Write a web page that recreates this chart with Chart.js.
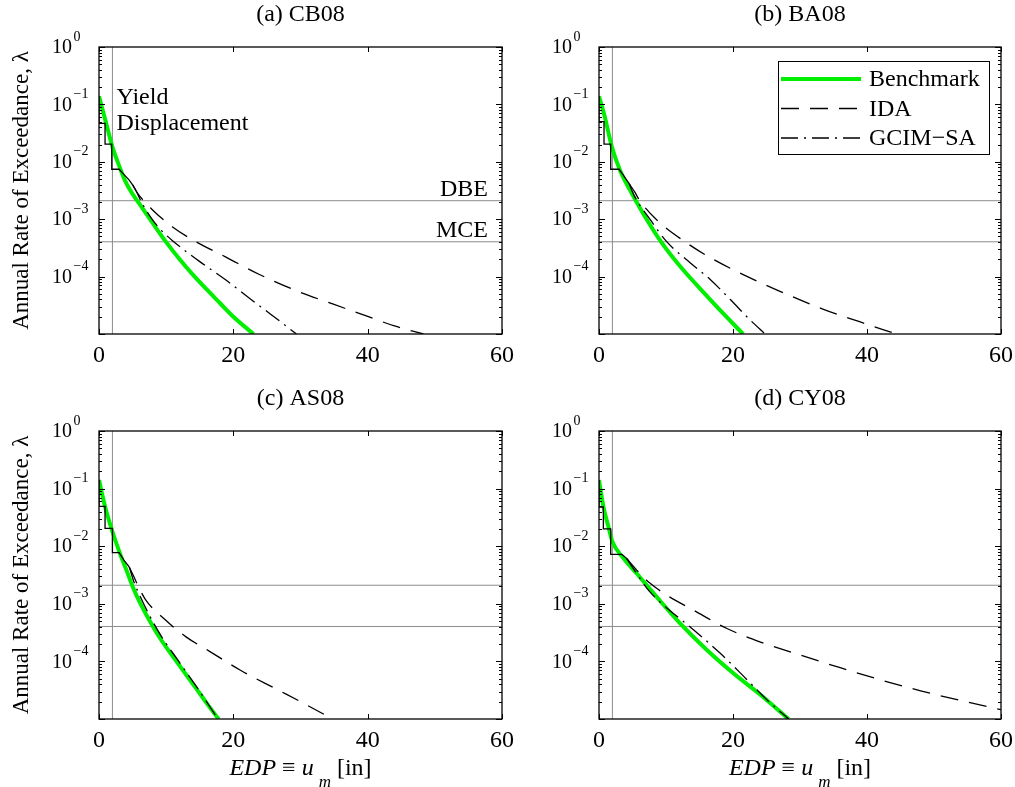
<!DOCTYPE html>
<html>
<head>
<meta charset="utf-8">
<title>Seismic hazard curves</title>
<script src="https://cdn.jsdelivr.net/npm/chart.js@4.4.1/dist/chart.umd.min.js"></script>
<style>
  body { margin: 0; background: #fff; }
  #wrap { position: relative; width: 1015px; height: 787px; }
  #wrap canvas { position: absolute; left: 0; top: 0; }
</style>
</head>
<body>
<div id="wrap">
  <canvas id="plotA" width="1015" height="787"></canvas>
  <canvas id="plotB" width="1015" height="787"></canvas>
  <canvas id="plotC" width="1015" height="787"></canvas>
  <canvas id="plotD" width="1015" height="787"></canvas>
</div>
<script>
// axes
const xMin = 0, xMax = 60;
const xTicks = [0, 20, 40, 60];
const yMin = 1e-5, yMax = 1;
const yTickExps = [0, -1, -2, -3, -4];   // labelled decades (1e-5 is the bottom edge)

// reference levels
const yieldDisp = 2;                      // [in]
const hazardNames = ["DBE", "MCE"];
const hazardRates = [2.1e-3, 4.04e-4];

// [EDP (in), annual rate of exceedance]
// "Steps" is the stepped start that IDA and GCIM-SA share (drawn once, solid)
// (a) CB08
const cb08Bench = [[0, 0.138], [1, 0.0501], [2, 0.0182], [3, 0.00851], [4, 0.00437], [5, 0.00275], [6, 0.00186],
    [8, 8.51e-4], [10, 3.98e-4], [12, 2.0e-4], [14, 1.07e-4], [16, 6.03e-5], [18, 3.47e-5], [20, 2.0e-5], [23, 1.0e-5]];
const cb08Steps = [[0, 0.138], [0, 0.0468], [0.9, 0.0468], [0.9, 0.0204], [1.9, 0.0204], [1.9, 0.00741], [3.0, 0.00741],
    [3.7, 0.00603], [4.5, 0.00479], [5.0, 0.00398]];
const cb08Ida = [[5.7, 0.00288], [7.9, 0.00148], [10.9, 7.41e-4], [14.4, 4.07e-4], [18.9, 2.19e-4], [23.8, 1.10e-4],
    [29.9, 5.37e-5], [34.9, 3.31e-5], [39.9, 2.04e-5], [44, 1.38e-5], [48.3, 1.0e-5]];
const cb08Gcim = [[5.5, 0.00316], [6.4, 0.00191], [7.5, 0.00117], [9, 6.92e-4], [10.9, 4.27e-4], [14.9, 1.86e-4],
    [18.9, 8.71e-5], [22.3, 4.27e-5], [25.5, 2.24e-5], [29.4, 1.0e-5]];

// (b) BA08
const ba08Bench = [[0, 0.138], [0.85, 0.0617], [1.9, 0.0186], [3.1, 0.00724], [4.6, 0.00324], [5.85, 0.00178], [7.1, 0.001],
    [9.3, 3.98e-4], [12.1, 1.51e-4], [16.6, 3.98e-5], [19, 2.0e-5], [21.5, 1.0e-5]];
const ba08Steps = [[0, 0.138], [0, 0.0501], [0.75, 0.0501], [0.75, 0.0204], [1.75, 0.0204], [1.75, 0.00741], [3.0, 0.00741],
    [3.6, 0.00589], [4.5, 0.00417]];
const ba08Ida = [[5.3, 0.00302], [6.1, 0.00209], [8.6, 9.77e-4], [12.8, 4.07e-4], [16.6, 2.14e-4], [22.0, 1.02e-4],
    [26.5, 5.89e-5], [33.5, 2.69e-5], [39, 1.62e-5], [44.4, 1.0e-5]];
const ba08Gcim = [[5.2, 0.00263], [7.6, 0.001], [10.1, 4.07e-4], [13.6, 1.74e-4], [16.6, 8.91e-5], [19.6, 3.98e-5],
    [22.5, 1.78e-5], [24.8, 1.0e-5]];

// (c) AS08
const as08Bench = [[0, 0.141], [0.9, 0.049], [1.9, 0.0195], [3.1, 0.00759], [4.1, 0.0038], [5, 0.002], [6, 0.0011],
    [7, 6.61e-4], [9, 2.63e-4], [11.4, 1.05e-4], [14.4, 3.47e-5], [16, 1.91e-5], [17.8, 1.0e-5]];
const as08Steps = [[0, 0.141], [0, 0.049], [0.9, 0.049], [0.9, 0.0204], [2.0, 0.0204], [2.0, 0.00776], [3.0, 0.00776],
    [3.7, 0.00575], [4.5, 0.00437]];
const as08Ida = [[5.2, 0.00295], [5.7, 0.00219], [6.95, 0.00117], [9.9, 5.25e-4], [12.9, 2.69e-4], [16.4, 1.51e-4],
    [21, 7.08e-5], [26.4, 3.31e-5], [30, 2.0e-5], [34.8, 1.0e-5]];
const as08Gcim = [[5.2, 0.0024], [6, 0.00145], [7.2, 7.41e-4], [9.2, 2.82e-4], [11.7, 1.07e-4], [14.7, 3.39e-5],
    [17.7, 1.0e-5]];

// (d) CY08
const cy08Bench = [[0, 0.141], [0.65, 0.049], [1.4, 0.0219], [2.0, 0.012], [3.6, 0.00631], [5.6, 0.00339], [8.6, 0.00132],
    [12.1, 4.57e-4], [16.1, 1.58e-4], [20.1, 6.17e-5], [24, 2.69e-5], [28.3, 1.0e-5]];
const cy08Steps = [[0, 0.141], [0, 0.0479], [0.65, 0.0479], [0.65, 0.02], [1.75, 0.02], [1.75, 0.00724], [3.4, 0.00724],
    [4.1, 0.00617]];
const cy08Ida = [[5.6, 0.00389], [7.1, 0.00257], [8.6, 0.00186], [10.1, 0.00141], [14.1, 7.76e-4], [19.1, 3.72e-4],
    [24, 2.19e-4], [30, 1.29e-4], [36, 7.76e-5], [42, 4.79e-5], [48, 3.09e-5], [54, 2.09e-5], [60, 1.45e-5]];
const cy08Gcim = [[5.6, 0.00339], [7.5, 0.00166], [9.6, 9.55e-4], [14.1, 3.55e-4], [18.1, 1.38e-4], [21.6, 5.5e-5],
    [25, 2.19e-5], [28.3, 1.0e-5]];

const panels = [
    { id: "plotA", title: "(a) CB08", bench: cb08Bench, steps: cb08Steps, ida: cb08Ida, gcim: cb08Gcim, col: 0, row: 0, notes: true },
    { id: "plotB", title: "(b) BA08", bench: ba08Bench, steps: ba08Steps, ida: ba08Ida, gcim: ba08Gcim, col: 1, row: 0, legend: true },
    { id: "plotC", title: "(c) AS08", bench: as08Bench, steps: as08Steps, ida: as08Ida, gcim: as08Gcim, col: 0, row: 1 },
    { id: "plotD", title: "(d) CY08", bench: cy08Bench, steps: cy08Steps, ida: cy08Ida, gcim: cy08Gcim, col: 1, row: 1 }
];

const SERIF = '"Liberation Serif", "DejaVu Serif", serif';
const GREEN = "#00ee00";
const GRAY = "#8c8c8c";
const idaDash = [18, 11];
const gcimDash = [17, 6, 2, 6];

Chart.defaults.font.family = SERIF;
Chart.defaults.color = "#000";

function toXY(pairs) {
    return pairs.map(p => ({ x: p[0], y: p[1] }));
}

// MATLAB-style box: inward ticks, 10^k labels, legend, annotations
const matlabAxes = {
    id: "matlabAxes",
    afterDraw(chart, args, opts) {
        const ctx = chart.ctx;
        const a = chart.chartArea;
        const xs = chart.scales.x, ys = chart.scales.y;
        ctx.save();

        // tick marks
        ctx.strokeStyle = "#000";
        ctx.lineWidth = 1;
        ctx.beginPath();
        const e0 = Math.round(Math.log10(yMin)), e1 = Math.round(Math.log10(yMax));
        for (let e = e0; e <= e1; e++) {
            for (let m = 1; m < 10; m++) {
                if (e === e1 && m > 1) break;
                const y = Math.round(ys.getPixelForValue(m * Math.pow(10, e))) + 0.5;
                const len = m === 1 ? 6 : 3;
                ctx.moveTo(a.left, y); ctx.lineTo(a.left + len, y);
                ctx.moveTo(a.right, y); ctx.lineTo(a.right - len, y);
            }
        }
        xTicks.forEach(v => {
            const x = Math.round(xs.getPixelForValue(v)) + 0.5;
            ctx.moveTo(x, a.bottom); ctx.lineTo(x, a.bottom - 5);
            ctx.moveTo(x, a.top); ctx.lineTo(x, a.top + 5);
        });
        ctx.stroke();
        ctx.lineWidth = 1.3;
        ctx.strokeRect(a.left, a.top, a.right - a.left, a.bottom - a.top);

        // y tick labels 10^k
        ctx.fillStyle = "#000";
        ctx.textAlign = "left";
        ctx.textBaseline = "middle";
        yTickExps.forEach(k => {
            const y = ys.getPixelForValue(Math.pow(10, k));
            const x = a.left - 47;
            ctx.font = "20px " + SERIF;
            ctx.fillText("10", x, y + 1);
            ctx.font = "14px " + SERIF;
            ctx.fillText(k === 0 ? "0" : "\u2212" + (-k), x + 21.5, y - 10);
        });

        // annotations (panel a)
        if (opts.notes) {
            ctx.font = "24px " + SERIF;
            ctx.textBaseline = "alphabetic";
            const xl = xs.getPixelForValue(yieldDisp) + 4;
            const yl = ys.getPixelForValue(0.1);
            ctx.fillText("Yield", xl, yl);
            ctx.fillText("Displacement", xl, yl + 26);
            ctx.textAlign = "right";
            hazardNames.forEach((name, i) => {
                ctx.fillText(name, a.right - 14, ys.getPixelForValue(hazardRates[i]) - 5);
            });
        }

        // legend (panel b)
        if (opts.legend) {
            const items = chart.data.datasets.filter(d => d.label);
            const bw = 211, bh = 93;
            const bx = a.right - 12 - bw, by = a.top + 14;
            ctx.fillStyle = "#fff";
            ctx.fillRect(bx, by, bw, bh);
            ctx.strokeStyle = "#000";
            ctx.lineWidth = 1;
            ctx.strokeRect(bx + 0.5, by + 0.5, bw, bh);
            ctx.font = "24px " + SERIF;
            ctx.textAlign = "left";
            ctx.textBaseline = "middle";
            items.forEach((d, i) => {
                const y = by + 18 + i * 29.5;
                ctx.strokeStyle = d.borderColor;
                ctx.lineWidth = d.borderWidth;
                ctx.setLineDash(d.borderDash || []);
                ctx.beginPath();
                ctx.moveTo(bx + 3, y);
                ctx.lineTo(bx + 83, y);
                ctx.stroke();
                ctx.setLineDash([]);
                ctx.fillStyle = "#000";
                ctx.fillText(d.label, bx + 91, y + 1);
            });
        }

        // x axis title (bottom row): EDP ≡ u_m [in]
        if (opts.xTitle) {
            const parts = [
                { t: "EDP", f: "italic 24px ", dy: 0, gap: 0 },
                { t: " \u2261 ", f: "24px ", dy: 0, gap: 0 },
                { t: "u", f: "italic 24px ", dy: 0, gap: 0 },
                { t: "m", f: "italic 17px ", dy: 12, gap: 5 },
                { t: " [in]", f: "24px ", dy: 0, gap: 0 }
            ];
            let total = 0;
            parts.forEach(p => {
                ctx.font = p.f + SERIF;
                p.w = ctx.measureText(p.t).width;
                total += p.gap + p.w;
            });
            let x = (a.left + a.right) / 2 - total / 2;
            const base = a.bottom + 56;
            ctx.textAlign = "left";
            ctx.textBaseline = "alphabetic";
            ctx.fillStyle = "#000";
            parts.forEach(p => {
                x += p.gap;
                ctx.font = p.f + SERIF;
                ctx.fillText(p.t, x, base + p.dy);
                x += p.w;
            });
        }
        ctx.restore();
    }
};

function buildDatasets(p) {
    const common = { pointRadius: 0, fill: false, clip: 0 };
    const smooth = { cubicInterpolationMode: "monotone" };
    const joint = p.steps[p.steps.length - 1];
    const sets = [
        Object.assign({ label: "Benchmark", data: toXY(p.bench), borderColor: GREEN, borderWidth: 4, order: 2 }, common, smooth),
        Object.assign({
            label: "IDA", data: toXY([joint].concat(p.ida)), borderColor: "#000", borderWidth: 1.3,
            borderDash: idaDash, order: 0
        }, common, smooth),
        Object.assign({
            label: "GCIM\u2212SA", data: toXY([joint].concat(p.gcim)), borderColor: "#000", borderWidth: 1.3,
            borderDash: gcimDash, order: 1
        }, common, smooth),
        // shared stepped start: both curves overlap here and read as one solid line
        Object.assign({ data: toXY(p.steps), borderColor: "#000", borderWidth: 1.3, tension: 0, order: 0 }, common)
    ];
    hazardRates.forEach(r => {
        sets.push(Object.assign({ data: [{ x: xMin, y: r }, { x: xMax, y: r }], borderColor: GRAY, borderWidth: 1, order: 3 }, common));
    });
    sets.push(Object.assign({ data: [{ x: yieldDisp, y: yMin }, { x: yieldDisp, y: yMax }], borderColor: GRAY, borderWidth: 1, order: 3 }, common));
    return sets;
}

panels.forEach(p => {
    const pad = {
        left: p.col === 0 ? 0 : 507,
        right: p.col === 0 ? 513 : 14,
        top: p.row === 0 ? 0 : 384,
        bottom: p.row === 0 ? 413 : 28
    };
    const yWidth = p.col === 0 ? 99 : 92;

    new Chart(document.getElementById(p.id), {
        type: "line",
        data: { datasets: buildDatasets(p) },
        plugins: [matlabAxes],
        options: {
            responsive: false,
            animation: false,
            events: [],
            layout: { padding: pad },
            plugins: {
                legend: { display: false },
                tooltip: { enabled: false },
                title: {
                    display: true,
                    text: p.title,
                    fullSize: false,
                    color: "#000",
                    font: { size: 24, weight: "normal" },
                    padding: { top: 0, bottom: 18.2 }
                },
                matlabAxes: { legend: !!p.legend, notes: !!p.notes, xTitle: p.row === 1 }
            },
            scales: {
                x: {
                    type: "linear",
                    min: xMin,
                    max: xMax,
                    grid: { display: false, drawTicks: false },
                    border: { display: false },
                    ticks: { color: "#000", font: { size: 24 }, padding: 7, maxRotation: 0 },
                    afterBuildTicks: s => { s.ticks = xTicks.map(v => ({ value: v })); },
                    afterFit: s => { s.height = 40; s.paddingLeft = 0; s.paddingRight = 0; }
                },
                y: {
                    type: "logarithmic",
                    min: yMin,
                    max: yMax,
                    grid: { display: false, drawTicks: false },
                    border: { display: false },
                    ticks: { display: false },
                    title: {
                        display: p.col === 0,
                        text: "Annual Rate of Exceedance, \u03bb",
                        color: "#000",
                        font: { size: 23 },
                        padding: { top: 8 }
                    },
                    afterFit: s => { s.width = yWidth; s.paddingTop = 0; s.paddingBottom = 0; }
                }
            }
        }
    });
});
</script>
</body>
</html>
